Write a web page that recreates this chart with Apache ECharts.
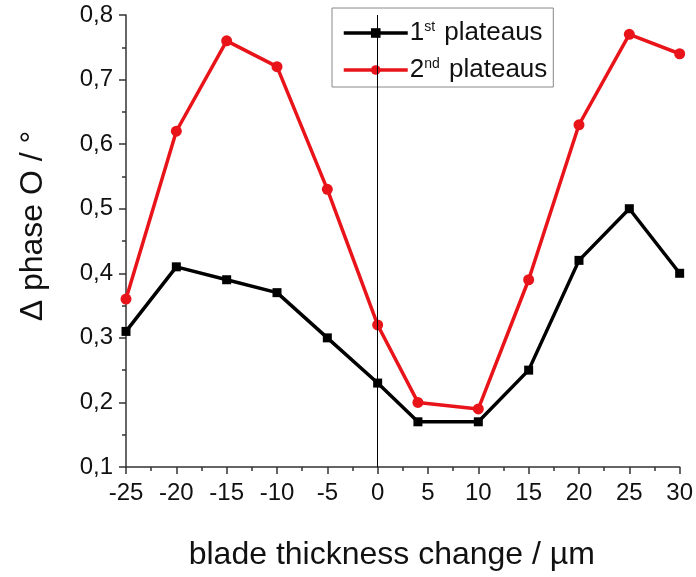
<!DOCTYPE html>
<html><head><meta charset="utf-8">
<script src="https://cdn.jsdelivr.net/npm/echarts@6/dist/echarts.min.js"></script>
<style>html,body{margin:0;padding:0;background:#fff}#c{width:696px;height:577px}</style>
</head><body><div id="c"></div>
<script>
const xValues = [-25, -20, -15, -10, -5, 0, 4, 10, 15, 20, 25, 30];
const plateau1 = [0.31, 0.41, 0.39, 0.37, 0.30, 0.23, 0.17, 0.17, 0.25, 0.42, 0.50, 0.40];
const plateau2 = [0.36, 0.62, 0.76, 0.72, 0.53, 0.32, 0.20, 0.19, 0.39, 0.63, 0.77, 0.74];
const seriesNames = ['1st plateaus', '2nd plateaus'];

const font = '"Liberation Sans", Arial, sans-serif';
const chart = echarts.init(document.getElementById('c'));
const pairs = arr => xValues.map((x, i) => [x, arr[i]]);
chart.setOption({
  animation: false,
  grid: {left: 126, right: 15, top: 15, bottom: 110},
  legend: {
    left: 332, top: 8, orient: 'vertical',
    backgroundColor: '#fff', borderColor: '#888', borderWidth: 1,
    padding: [12, 6, 4, 10], itemGap: 11, itemWidth: 64, itemHeight: 12,
    lineStyle: {width: 3.5},
    data: seriesNames,
    formatter: n => n.startsWith('1') ? '{a|1}{s|st}{a| plateaus}' : '{a|2}{s|nd}{a| plateaus}',
    textStyle: {
      fontFamily: font, fontSize: 26, color: '#111', padding: [0, 0, 0, -3],
      rich: {
        a: {fontFamily: font, fontSize: 26, color: '#111'},
        s: {fontFamily: font, fontSize: 14, color: '#111', verticalAlign: 'top', padding: [0, 2, 12, 0]}
      }
    }
  },
  xAxis: {
    type: 'value', min: -25, max: 30, interval: 5,
    name: 'blade thickness change / µm', nameLocation: 'middle', nameGap: 72,
    nameTextStyle: {fontFamily: font, fontSize: 32, color: '#111', padding: [0, 22, 0, 0]},
    axisLine: {onZero: false, lineStyle: {color: '#333', width: 1.5}},
    axisTick: {show: true, inside: false, length: 7, lineStyle: {color: '#333', width: 1.5}},
    minorTick: {show: true, splitNumber: 2, length: 4, lineStyle: {color: '#333', width: 1.5}},
    axisLabel: {fontFamily: font, fontSize: 24, color: '#111', margin: 14},
    splitLine: {show: false}
  },
  yAxis: {
    type: 'value', min: 0.1, max: 0.8, interval: 0.1,
    name: 'Δ phase O / °', nameLocation: 'middle', nameGap: 77,
    nameTextStyle: {fontFamily: font, fontSize: 32, color: '#111', padding: [0, 0, 0, 30]},
    axisLine: {show: true, onZero: false, lineStyle: {color: '#333', width: 1.5}},
    axisTick: {show: true, inside: false, length: 7, lineStyle: {color: '#333', width: 1.5}},
    minorTick: {show: true, splitNumber: 2, length: 4, lineStyle: {color: '#333', width: 1.5}},
    axisLabel: {fontFamily: font, fontSize: 24, color: '#111', margin: 13,
      formatter: v => v.toFixed(1).replace('.', ',')},
    splitLine: {show: false}
  },
  series: [
    {
      name: seriesNames[0], type: 'line', data: pairs(plateau1), clip: true,
      symbol: 'rect', symbolSize: 9,
      lineStyle: {color: '#000', width: 3.5}, itemStyle: {color: '#000'},
      markLine: {silent: true, symbol: 'none', label: {show: false},
        lineStyle: {color: '#000', width: 1, type: 'solid'}, data: [{xAxis: 0}]},
      z: 2
    },
    {
      name: seriesNames[1], type: 'line', data: pairs(plateau2), clip: true,
      symbol: 'circle', symbolSize: 11,
      lineStyle: {color: '#e8141a', width: 3.5}, itemStyle: {color: '#e8141a'},
      z: 3
    }
  ]
});
</script></body></html>
